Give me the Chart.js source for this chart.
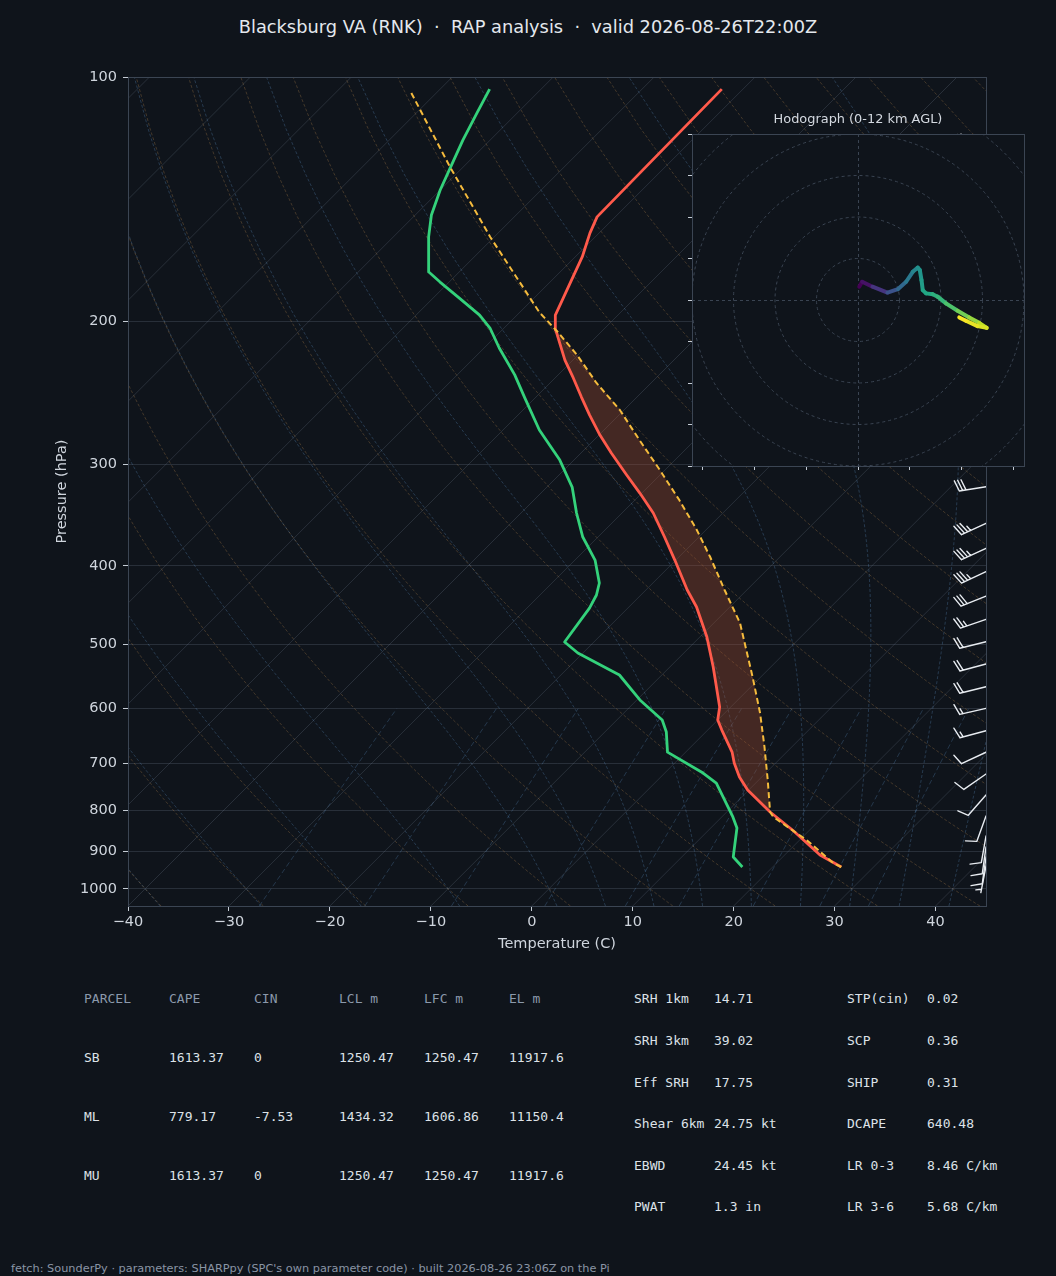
<!DOCTYPE html>
<html>
<head>
<meta charset="utf-8">
<title>Skew-T Blacksburg</title>
<script src="https://cdn.jsdelivr.net/npm/chart.js@4.4.1/dist/chart.umd.min.js"></script>
<style>
  html, body { margin: 0; padding: 0; background: #0f141b; }
  body { width: 1056px; height: 1276px; position: relative; overflow: hidden; font-family: "DejaVu Sans", sans-serif; }
  canvas { position: absolute; }
  #skew { left: 0; top: 0; }
  #hodo { left: 672px; top: 100px; }
  .txt { position: absolute; white-space: pre; line-height: 16px; }
  .mono { font-family: "DejaVu Sans Mono", monospace; font-size: 13px; }
  #title { left: 0; width: 1056px; text-align: center; top: 17px; font-size: 17.8px; line-height: 20px; color: #e4e8ed; }
  #hodoTitle { left: 692px; width: 332px; text-align: center; top: 111px; font-size: 12.9px; color: #d4d9e0; }
  #footer { left: 11px; top: 1262px; font-size: 11.3px; line-height: 14px; color: #8a95a5; }
</style>
</head>
<body>
<div id="title" class="txt">Blacksburg VA (RNK)  ·  RAP analysis  ·  valid 2026-08-26T22:00Z</div>
<canvas id="skew" width="1056" height="960"></canvas>
<canvas id="hodo" width="372" height="380"></canvas>
<div id="hodoTitle" class="txt">Hodograph (0-12 km AGL)</div>
<div id="footer" class="txt">fetch: SounderPy · parameters: SHARPpy (SPC's own parameter code) · built 2026-08-26 23:06Z on the Pi</div>
<script>
// ---- sounding data ----
const tempP = [940.0, 908.5, 846.4, 804.3, 755.7, 728.4, 700.1, 678.6, 637.5, 619.6, 597.1, 533.1, 489.6, 449.6, 428.5,
  393.6, 368.7, 344.4, 325.5, 309.2, 290.5, 276.1, 260.9, 247.9, 234.8, 223.2, 204.9, 196.5, 188.3, 173.9, 166.6,
  155.7, 148.7, 103.5];
const tempC = [26.8, 23.5, 18.3, 14.3, 9.9, 7.8, 5.9, 4.6, 1.4, 0.0, -1.1, -5.7, -9.3, -13.3, -15.9,
  -20.1, -23.4, -26.9, -30.2, -33.3, -37.0, -39.9, -42.9, -45.5, -48.2, -50.8, -54.7, -56.2, -57.0, -58.5, -59.3,
  -60.9, -61.8, -62.1];

const dewP = [940.0, 913.6, 841.6, 815.6, 740.8, 720.1, 678.6, 641.1, 619.6, 585.3, 545.3, 512.3, 496.6, 451.0, 434.6,
  420.1, 393.6, 368.7, 344.4, 320.0, 296.4, 272.2, 248.6, 232.8, 215.7, 203.8, 196.5, 187.2, 178.9, 173.9, 157.4,
  147.9, 137.8, 129.4, 119.6, 110.7, 103.5];
const dewC = [17.0, 15.1, 12.6, 11.1, 6.1, 3.8, -1.8, -3.9, -5.5, -9.7, -14.2, -20.5, -22.9, -23.8, -24.4,
  -25.3, -28.0, -31.5, -34.5, -37.5, -41.4, -46.4, -51.0, -54.3, -58.5, -61.4, -63.7, -67.4, -70.9, -73.0, -76.5,
  -78.4, -80.0, -81.2, -82.7, -84.0, -85.1];

const parcelP = [940.0, 929.5, 870.9, 815.6, 804.3, 734.6, 668.8, 607.4, 548.5, 470.6, 428.5, 390.2, 361.4, 332.0,
  304.9, 280.0, 257.2, 238.2, 220.0, 206.1, 194.8, 157.4, 129.1, 103.8];
const parcelC = [26.8, 25.6, 20.7, 15.1, 14.3, 10.9, 7.3, 3.5, -0.8, -7.4, -12.2, -16.9, -20.9, -25.6,
  -30.5, -35.5, -40.4, -45.4, -50.1, -54.3, -58.1, -70.4, -81.3, -92.9];
const lfcP = 804.3;   // CAPE layer base
const elP = 204.0;    // CAPE layer top

const barbP   = [119.9, 319.7, 354.6, 380.7, 406.8, 435.9, 465.6, 496.2, 528.5, 563.8, 599.4, 638.7, 678.9, 722.0, 766.3, 813.5, 861.0, 888.3, 913.9, 937.5];
const barbDir = [261, 261, 245, 245, 245, 248, 251, 256, 255, 256, 257, 255, 245, 235, 221, 200, 190, 188, 188, 191];
const barbSpd = [35, 30, 35, 35, 35, 30, 25, 20, 20, 20, 15, 15, 10, 10, 10, 10, 10, 10, 10, 5];

const hodoU = [0.3, 1.0, 3.5, 7.1, 9.6, 11.6, 13.2, 14.4, 14.9, 15.3, 15.6, 16.4, 18.0, 19.2, 21.2, 24.0, 26.8, 29.2, 31.0, 28.8, 26.0, 24.4];
const hodoV = [3.2, 4.4, 3.2, 1.8, 2.6, 4.4, 6.8, 7.8, 7.2, 4.8, 2.4, 1.6, 1.4, 0.8, -0.8, -2.6, -4.2, -5.5, -6.7, -6.3, -5.0, -4.2];
const hodoZ = [0.0, 0.6, 1.8, 3.0, 4.0, 4.8, 5.4, 6.0, 6.2, 6.6, 7.0, 7.2, 7.6, 7.9, 8.6, 9.4, 10.1, 10.8, 11.3, 11.6, 11.9, 12.0];

const xTicks = [-40, -30, -20, -10, 0, 10, 20, 30, 40];
const yTicks = [100, 200, 300, 400, 500, 600, 700, 800, 900, 1000];
const hodoXTicks = [-37.5, -25, -12.5, 0, 12.5, 25, 37.5];
const hodoYTicks = [-40, -30, -20, -10, 0, 10, 20, 30, 40];

const parcelHead = ['PARCEL', 'CAPE', 'CIN', 'LCL m', 'LFC m', 'EL m'];
const parcelRows = [
  ['SB', '1613.37', '0', '1250.47', '1250.47', '11917.6'],
  ['ML', '779.17', '-7.53', '1434.32', '1606.86', '11150.4'],
  ['MU', '1613.37', '0', '1250.47', '1250.47', '11917.6'],
];
const indexRows = [
  ['SRH 1km', '14.71', 'STP(cin)', '0.02'],
  ['SRH 3km', '39.02', 'SCP', '0.36'],
  ['Eff SRH', '17.75', 'SHIP', '0.31'],
  ['Shear 6km', '24.75 kt', 'DCAPE', '640.48'],
  ['EBWD', '24.45 kt', 'LR 0-3', '8.46 C/km'],
  ['PWAT', '1.3 in', 'LR 3-6', '5.68 C/km'],
];

// ---- look ----
const BG = '#0f141b';
const FRAME = '#3b4553';
const GRID = 'rgba(120,135,155,0.24)';
const TICK_TXT = '#cfd5dd';
const TICK_MARK = '#c5ccd5';
const DRY = 'rgba(190,140,80,0.30)';
const MOIST = 'rgba(90,140,190,0.32)';
const MIX = 'rgba(90,140,190,0.30)';

const P_TOP = 100, P_BOT = 1050, T_MIN = -40, T_MAX = 45;
const PLOT = { left: 128, top: 77, right: 986, bottom: 906 };
const SKEW = ((PLOT.bottom - PLOT.top) / (PLOT.right - PLOT.left)) * (T_MAX - T_MIN) / Math.log10(P_BOT / P_TOP);
const skewX = (t, p) => t + SKEW * Math.log10(P_BOT / p);

Chart.defaults.font.family = '"DejaVu Sans", sans-serif';

// ---- thermodynamic reference lines ----
const RD = 287.04749, CP = 1004.6662, LV = 2.50084e6, EPS = 0.6219569, KAPPA = RD / CP;
const satVap = tk => 6.112 * Math.exp(17.67 * (tk - 273.15) / (tk - 29.65));
function moistRate(tk, p) {
  const es = satVap(tk);
  const rs = EPS * es / (p - es);
  return (RD * tk + LV * rs) / (CP + LV * LV * rs * EPS / (RD * tk * tk)) / p;
}
function moistTemp(t0, p) {
  let tk = t0 + 273.15, pc = 1000;
  const n = Math.max(1, Math.ceil(Math.abs(p - 1000) / 2));
  const h = (p - 1000) / n;
  for (let i = 0; i < n; i++) {
    const k1 = moistRate(tk, pc);
    const k2 = moistRate(tk + h * k1 / 2, pc + h / 2);
    const k3 = moistRate(tk + h * k2 / 2, pc + h / 2);
    const k4 = moistRate(tk + h * k3, pc + h);
    tk += h * (k1 + 2 * k2 + 2 * k3 + k4) / 6;
    pc += h;
  }
  return tk - 273.15;
}
function dewFromMix(w, p) {
  const e = w * p / (EPS + w);
  const v = Math.log(e / 6.112);
  return 243.5 * v / (17.67 - v);
}

const refP = [];
for (let i = 0; i <= 60; i++) refP.push(P_BOT - (P_BOT - P_TOP) * i / 60);
const mixP = [];
for (let i = 0; i <= 10; i++) mixP.push(P_BOT - (P_BOT - 600) * i / 10);

function refLine(points, color, dash) {
  return { data: points, showLine: true, borderColor: color, borderWidth: 1, borderDash: dash || [], pointRadius: 0, fill: false };
}

const background = [];
for (let t = -120; t <= 40; t += 10) {
  background.push(refLine([{ x: skewX(t, P_BOT), y: P_BOT }, { x: skewX(t, P_TOP), y: P_TOP }], GRID));
}
for (let t0 = -40; t0 <= 245; t0 += 10) {
  background.push(refLine(refP.map(p => ({ x: skewX((t0 + 273.15) * Math.pow(p / 1000, KAPPA) - 273.15, p), y: p })), DRY, [3, 2]));
}
const moistStarts = [-40, -30, -20, -10, 0, 5, 10, 15, 20, 25, 30, 35, 40, 45];
moistStarts.forEach(t0 => {
  background.push(refLine(refP.map(p => ({ x: skewX(moistTemp(t0, p), p), y: p })), MOIST, [3, 2]));
});
[0.0004, 0.001, 0.002, 0.004, 0.007, 0.01, 0.016, 0.024, 0.032].forEach(w => {
  background.push(refLine(mixP.map(p => ({ x: skewX(dewFromMix(w, p), p), y: p })), MIX, [5, 3]));
});

// ---- profiles ----
const pts = (ps, ts) => ps.map((p, i) => ({ x: skewX(ts[i], p), y: p }));

const capeShape = [];
parcelP.forEach((p, i) => { if (p <= lfcP && p >= elP) capeShape.push({ x: skewX(parcelC[i], p), y: p }); });
for (let i = tempP.length - 1; i >= 0; i--) {
  if (tempP[i] <= lfcP && tempP[i] >= elP) capeShape.push({ x: skewX(tempC[i], tempP[i]), y: tempP[i] });
}
capeShape.reverse();

const profileSets = [
  { data: pts(parcelP, parcelC), showLine: true, borderColor: '#f5bb3d', borderWidth: 2, borderDash: [6, 3.5], pointRadius: 0, fill: false },
  { data: pts(tempP, tempC), showLine: true, borderColor: '#ff5a4b', borderWidth: 2.8, pointRadius: 0, fill: false, borderJoinStyle: 'round' },
  { data: pts(dewP, dewC), showLine: true, borderColor: '#34d27b', borderWidth: 2.8, pointRadius: 0, fill: false, borderJoinStyle: 'round' },
  { data: capeShape, showLine: true, borderWidth: 0, borderColor: 'rgba(0,0,0,0)', backgroundColor: 'rgba(160,75,50,0.37)', pointRadius: 0, fill: 'shape' },
];

// ---- wind barbs on the right edge ----
function drawBarb(ctx, x, y, dir, spd) {
  const L = 27, H = 0.4 * L, SP = 0.125 * L, W = 0.25 * L;
  const r = dir * Math.PI / 180;
  const dx = Math.sin(r), dy = -Math.cos(r);
  const px = Math.cos(r), py = Math.sin(r);
  const tx = x + dx * L, ty = y + dy * L;
  ctx.beginPath();
  ctx.moveTo(x, y);
  ctx.lineTo(tx, ty);
  const s = Math.round(spd / 5) * 5;
  const full = Math.floor(s / 10), half = (s % 10) >= 5;
  let off = 0;
  for (let i = 0; i < full; i++) {
    const ax = tx - dx * off, ay = ty - dy * off;
    ctx.moveTo(ax, ay);
    ctx.lineTo(ax + px * H + dx * W / 2, ay + py * H + dy * W / 2);
    off += SP;
  }
  if (half) {
    if (full === 0) off += SP;
    const ax = tx - dx * off, ay = ty - dy * off;
    ctx.moveTo(ax, ay);
    ctx.lineTo(ax + px * H / 2 + dx * W / 4, ay + py * H / 2 + dy * W / 4);
  }
  ctx.stroke();
}

const skewDecor = {
  id: 'skewDecor',
  afterDatasetsDraw(chart) {
    const { ctx, chartArea: a, scales } = chart;
    ctx.save();
    ctx.strokeStyle = '#e8ecf1';
    ctx.lineWidth = 1.4;
    ctx.lineCap = 'round';
    barbP.forEach((p, i) => drawBarb(ctx, a.right, scales.y.getPixelForValue(p), barbDir[i], barbSpd[i]));
    ctx.strokeStyle = FRAME;
    ctx.lineWidth = 1;
    ctx.strokeRect(Math.round(a.left) + 0.5, Math.round(a.top) + 0.5, Math.round(a.width), Math.round(a.height));
    ctx.restore();
  }
};

const minus = v => (v < 0 ? '\u2212' + Math.abs(v) : String(v));

new Chart(document.getElementById('skew'), {
  type: 'scatter',
  data: { datasets: profileSets.concat(background) },
  options: {
    responsive: false,
    animation: false,
    events: [],
    layout: { padding: { left: 0, top: PLOT.top, right: 1056 - PLOT.right, bottom: 0 } },
    plugins: { legend: { display: false }, tooltip: { enabled: false } },
    scales: {
      x: {
        type: 'linear', min: T_MIN, max: T_MAX,
        afterBuildTicks: s => { s.ticks = xTicks.map(v => ({ value: v })); },
        afterFit: s => { s.height = 960 - PLOT.bottom; },
        ticks: { color: TICK_TXT, font: { size: 14.5 }, padding: 3, maxRotation: 0, autoSkip: false, callback: v => minus(v) },
        grid: { drawOnChartArea: false, drawTicks: true, tickLength: 5, tickColor: TICK_MARK },
        border: { color: FRAME },
        title: { display: true, text: 'Temperature (C)', color: TICK_TXT, font: { size: 14.5 }, padding: { top: 0, bottom: 7 } }
      },
      y: {
        type: 'logarithmic', reverse: true, min: P_TOP, max: P_BOT,
        afterBuildTicks: s => { s.ticks = yTicks.map(v => ({ value: v })); },
        afterFit: s => { s.width = PLOT.left; },
        ticks: { color: TICK_TXT, font: { size: 14.5 }, padding: 6, autoSkip: false, callback: v => String(v) },
        grid: { color: GRID, drawTicks: true, tickLength: 5, tickColor: TICK_MARK },
        border: { color: FRAME },
        title: { display: true, text: 'Pressure (hPa)', color: TICK_TXT, font: { size: 14.5 }, padding: { top: 54, bottom: 0 } }
      }
    }
  },
  plugins: [skewDecor]
});

// ---- hodograph inset ----
const VIRIDIS = [[68, 1, 84], [72, 36, 117], [65, 68, 135], [53, 95, 141], [42, 120, 142], [33, 145, 140],
  [34, 168, 132], [68, 191, 112], [122, 209, 81], [189, 223, 38], [253, 231, 37]];
function viridis(t) {
  t = Math.max(0, Math.min(1, t));
  const f = t * 10, i = Math.min(9, Math.floor(f)), u = f - i;
  const a = VIRIDIS[i], b = VIRIDIS[i + 1];
  return 'rgb(' + [0, 1, 2].map(k => Math.round(a[k] + (b[k] - a[k]) * u)).join(',') + ')';
}
const HODO_TOP = 12;

const hodoDecor = {
  id: 'hodoDecor',
  beforeDraw(chart) {
    const { ctx, chartArea: a } = chart;
    ctx.save();
    ctx.fillStyle = BG;
    ctx.fillRect(a.left, a.top, a.width, a.height);
    ctx.restore();
  },
  beforeDatasetsDraw(chart) {
    const { ctx, chartArea: a, scales: { x, y } } = chart;
    const cx = x.getPixelForValue(0), cy = y.getPixelForValue(0);
    const unit = x.getPixelForValue(10) - cx;
    ctx.save();
    ctx.beginPath();
    ctx.rect(a.left, a.top, a.width, a.height);
    ctx.clip();
    ctx.strokeStyle = '#3a4452';
    ctx.lineWidth = 1;
    ctx.setLineDash([3, 3]);
    for (let r = 1; r <= 5; r++) {
      ctx.beginPath();
      ctx.arc(cx, cy, r * unit, 0, Math.PI * 2);
      ctx.stroke();
    }
    ctx.beginPath();
    ctx.moveTo(Math.round(cx) + 0.5, a.top); ctx.lineTo(Math.round(cx) + 0.5, a.bottom);
    ctx.moveTo(a.left, Math.round(cy) + 0.5); ctx.lineTo(a.right, Math.round(cy) + 0.5);
    ctx.stroke();
    ctx.restore();
  },
  afterDatasetsDraw(chart) {
    const { ctx, chartArea: a } = chart;
    ctx.save();
    ctx.strokeStyle = FRAME;
    ctx.lineWidth = 1;
    ctx.strokeRect(Math.round(a.left) + 0.5, Math.round(a.top) + 0.5, Math.round(a.width), Math.round(a.height));
    ctx.restore();
  }
};

new Chart(document.getElementById('hodo'), {
  type: 'scatter',
  data: {
    datasets: [{
      data: hodoU.map((u, i) => ({ x: u, y: hodoV[i] })),
      showLine: true, pointRadius: 0, borderWidth: 4,
      borderColor: viridis(0), borderCapStyle: 'round', borderJoinStyle: 'round',
      segment: { borderColor: c => viridis(hodoZ[c.p0DataIndex] / HODO_TOP) }
    }]
  },
  options: {
    responsive: false,
    animation: false,
    events: [],
    layout: { padding: { left: 0, top: 34, right: 20, bottom: 0 } },
    plugins: { legend: { display: false }, tooltip: { enabled: false } },
    scales: {
      x: {
        type: 'linear', min: -40, max: 40,
        afterBuildTicks: s => { s.ticks = hodoXTicks.map(v => ({ value: v })); },
        afterFit: s => { s.height = 14; },
        ticks: { display: false },
        grid: { drawOnChartArea: false, drawTicks: true, tickLength: 4, tickColor: TICK_MARK },
        border: { color: FRAME }
      },
      y: {
        type: 'linear', min: -40, max: 40,
        afterBuildTicks: s => { s.ticks = hodoYTicks.map(v => ({ value: v })); },
        afterFit: s => { s.width = 20; },
        ticks: { display: false },
        grid: { drawOnChartArea: false, drawTicks: true, tickLength: 4, tickColor: TICK_MARK },
        border: { color: FRAME }
      }
    }
  },
  plugins: [hodoDecor]
});

// ---- parameter tables ----
function addText(str, x, yc, color) {
  const d = document.createElement('div');
  d.className = 'txt mono';
  d.style.left = x + 'px';
  d.style.top = (yc - 8) + 'px';
  d.style.color = color;
  d.textContent = str;
  document.body.appendChild(d);
}
const parcelCols = [84, 169, 254, 339, 424, 509];
const parcelRowY = [1058, 1117, 1176];
parcelHead.forEach((h, j) => addText(h, parcelCols[j], 999, '#8b99ab'));
parcelRows.forEach((row, i) => row.forEach((v, j) => addText(v, parcelCols[j], parcelRowY[i], '#dde2e8')));

const indexCols = [634, 714, 847, 927];
const indexRowY = [999, 1041, 1083, 1124, 1166, 1207];
indexRows.forEach((row, i) => row.forEach((v, j) => addText(v, indexCols[j], indexRowY[i], '#dde2e8')));
</script>
</body>
</html>
